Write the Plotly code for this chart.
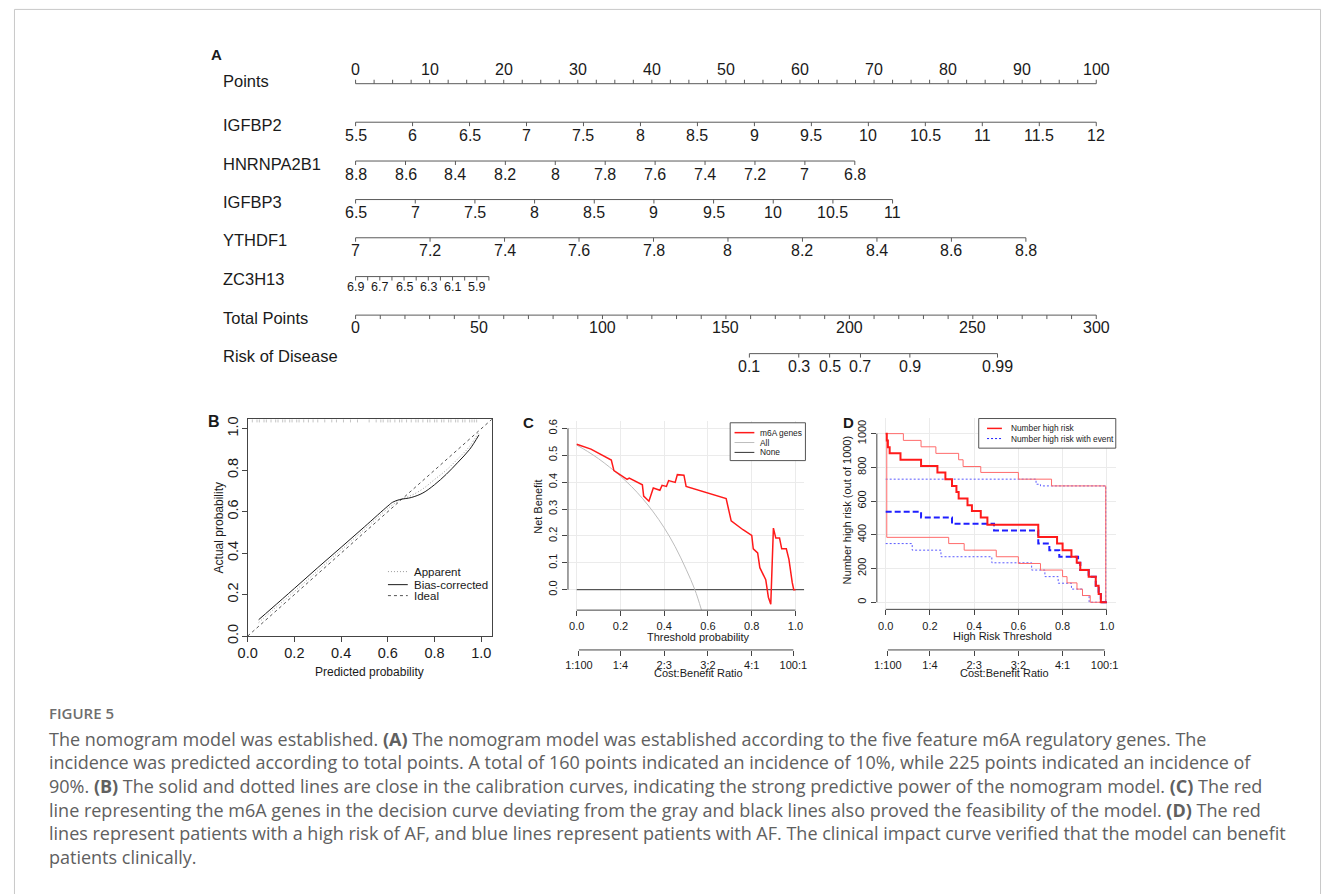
import plotly.graph_objects as go

W, H = 1328, 894
FONT = "Liberation Sans, Arial, Helvetica, sans-serif"
CAPFONT = "Open Sans, Noto Sans, sans-serif"

# ================= DATA =================
# ---- Panel A: nomogram scales ----
points_major = [0, 10, 20, 30, 40, 50, 60, 70, 80, 90, 100]
points_minor_step = 2.5
igfbp2_labels = [5.5, 6, 6.5, 7, 7.5, 8, 8.5, 9, 9.5, 10, 10.5, 11, 11.5, 12]
igfbp2_end_points = [0, 100]
hnrnpa2b1_labels = [8.8, 8.6, 8.4, 8.2, 8, 7.8, 7.6, 7.4, 7.2, 7, 6.8]
hnrnpa2b1_end_points = [0, 67.4]
igfbp3_labels = [6.5, 7, 7.5, 8, 8.5, 9, 9.5, 10, 10.5, 11]
igfbp3_end_points = [0, 72.5]
ythdf1_labels = [7, 7.2, 7.4, 7.6, 7.8, 8, 8.2, 8.4, 8.6, 8.8]
ythdf1_end_points = [0, 90.5]
zc3h13_ticks = [6.9, 6.8, 6.7, 6.6, 6.5, 6.4, 6.3, 6.2, 6.1, 6.0, 5.9, 5.8]
zc3h13_labels = [6.9, 6.7, 6.5, 6.3, 6.1, 5.9]
zc3h13_end_points = [0, 18.0]
total_labels = [0, 50, 100, 150, 200, 250, 300]
total_tick_step = 10
total_max = 300
risk_labels = [0.1, 0.3, 0.5, 0.7, 0.9, 0.99]
risk_total_points = [159.5, 179.5, 192.0, 204.5, 224.5, 260.0]

# ---- Panel B: calibration ----
calib_x = [0.047, 0.1, 0.2, 0.3, 0.4, 0.5, 0.6, 0.62, 0.65, 0.7, 0.75, 0.8, 0.85, 0.9, 0.95, 0.99]
bias_corrected_y = [0.079, 0.131, 0.230, 0.330, 0.428, 0.527, 0.627, 0.645, 0.658, 0.668, 0.690, 0.730, 0.780, 0.838, 0.900, 0.970]
apparent_y = [0.065, 0.118, 0.215, 0.315, 0.415, 0.515, 0.615, 0.632, 0.655, 0.678, 0.710, 0.755, 0.800, 0.855, 0.915, 0.985]
ideal_xy = [0, 1.05]
rug_pred = [0.02, 0.04, 0.05, 0.07, 0.08, 0.10, 0.12, 0.13, 0.15, 0.16, 0.18, 0.19, 0.21, 0.22,
            0.24, 0.26, 0.28, 0.30, 0.33, 0.36, 0.38, 0.41, 0.44, 0.47, 0.52, 0.55, 0.57, 0.58,
            0.60, 0.61, 0.63, 0.65, 0.66, 0.68, 0.70, 0.72, 0.73, 0.75, 0.77, 0.78, 0.80, 0.81,
            0.83, 0.84, 0.86, 0.87, 0.89, 0.90, 0.92, 0.93, 0.95, 0.96, 0.97, 0.98]

# ---- Panel C: decision curve ----
m6a_x = [0, 0.065, 0.158, 0.17, 0.23, 0.24, 0.30, 0.306, 0.33, 0.35, 0.38, 0.39, 0.41, 0.42, 0.45,
         0.46, 0.49, 0.50, 0.683, 0.706, 0.76, 0.80, 0.807, 0.827, 0.837, 0.864, 0.876, 0.887,
         0.899, 0.91, 0.927, 0.937, 0.958, 0.97, 0.985, 0.992, 1.0]
m6a_y = [0.541, 0.523, 0.482, 0.443, 0.410, 0.415, 0.390, 0.348, 0.329, 0.378, 0.370, 0.388, 0.384,
         0.406, 0.399, 0.428, 0.426, 0.384, 0.339, 0.256, 0.223, 0.202, 0.152, 0.137, 0.082, 0.037,
         -0.028, -0.054, 0.229, 0.192, 0.192, 0.152, 0.152, 0.113, 0.027, 0.0, 0.0]
all_x = [0, 0.05, 0.1, 0.15, 0.2, 0.25, 0.3, 0.35, 0.4, 0.45, 0.5, 0.54, 0.57]
all_y = [0.538, 0.514, 0.487, 0.456, 0.422, 0.384, 0.340, 0.289, 0.230, 0.160, 0.076, 0.0, -0.075]
none_x = [0, 1.04]
none_y = [0, 0]
cb_tickvals = [0.01, 0.2, 0.4, 0.6, 0.8, 0.99]
cb_ticktext = ["1:100", "1:4", "2:3", "3:2", "4:1", "100:1"]

# ---- Panel D: clinical impact curve (step functions) ----
hr_x = [0, 0.005, 0.01, 0.018, 0.067, 0.16, 0.234, 0.27, 0.30, 0.32, 0.33, 0.37, 0.39, 0.43, 0.46,
        0.69, 0.775, 0.80, 0.84, 0.864, 0.88, 0.918, 0.95, 0.963, 0.973, 1.0]
hr_y = [1000, 960, 920, 883, 845, 808, 770, 730, 690, 654, 615, 576, 541, 502, 459,
        387, 348, 309, 270, 234, 191, 152, 98, 49, 0, 0]
hr_up_x = [0, 0.08, 0.16, 0.227, 0.33, 0.35, 0.43, 0.60, 0.75, 0.995, 1.0]
hr_up_y = [1000, 960, 922, 883, 845, 805, 770, 730, 690, 0, 0]
hr_lo_x = [0, 0.005, 0.285, 0.355, 0.50, 0.60, 0.70, 0.80, 0.82, 0.865, 0.89, 0.925, 1.0]
hr_lo_y = [1000, 385, 348, 309, 270, 230, 191, 152, 115, 78, 40, 0, 0]
ev_x = [0, 0.16, 0.30, 0.49, 0.69, 0.74, 0.785, 0.87, 0.88, 0.918, 0.95, 0.963, 0.973, 1.0]
ev_y = [537, 502, 465, 426, 348, 309, 270, 234, 191, 152, 98, 49, 0, 0]
ev_up_x = [0, 0.68, 0.70, 0.995, 1.0]
ev_up_y = [730, 700, 690, 0, 0]
ev_lo_x = [0, 0.12, 0.25, 0.48, 0.66, 0.72, 0.78, 0.84, 0.89, 0.92, 1.0]
ev_lo_y = [348, 309, 270, 234, 191, 152, 113, 78, 40, 0, 0]

# ================= HELPERS (page pixel -> paper) =================
def px(p):
    return p / W

def py(p):
    return 1 - p / H

def fmt(v):
    return f"{v:g}"

def lin(vals, v0, v1, p0, p1):
    return [p0 + (v - v0) * (p1 - p0) / (v1 - v0) for v in vals]

fig = go.Figure()
ann = []
shapes = []

# ================= PANEL A =================
P0_PX, P100_PX = 349.0, 1097.0
PT_PER_PX = 100.0 / (P100_PX - P0_PX)
nomo_xrange = [(0 - P0_PX) * PT_PER_PX, (W - P0_PX) * PT_PER_PX]
NOMO_BOT = 400

def pts_of(vals, ref, ends):
    return lin(vals, ref[0], ref[-1], ends[0], ends[1])

n_minor = int(round(100 / points_minor_step))
points_ticks = [i * points_minor_step for i in range(n_minor + 1)]
total_ticks = list(range(0, total_max + 1, total_tick_step))

rows = [
    # name, y, tick positions (points), label positions (points), label texts, tick dir, label dy, font, name dy
    ("Points", 81.7, points_ticks, points_major, [fmt(v) for v in points_major], -1, -14.0, 16, -2.5),
    ("IGFBP2", 120.7, pts_of(igfbp2_labels, igfbp2_labels, igfbp2_end_points),
     pts_of(igfbp2_labels, igfbp2_labels, igfbp2_end_points), [fmt(v) for v in igfbp2_labels], 1, 13.6, 16, 2.6),
    ("HNRNPA2B1", 160.0, pts_of(hnrnpa2b1_labels, hnrnpa2b1_labels, hnrnpa2b1_end_points),
     pts_of(hnrnpa2b1_labels, hnrnpa2b1_labels, hnrnpa2b1_end_points), [fmt(v) for v in hnrnpa2b1_labels], 1, 14.0, 16, 2.5),
    ("IGFBP3", 199.0, pts_of(igfbp3_labels, igfbp3_labels, igfbp3_end_points),
     pts_of(igfbp3_labels, igfbp3_labels, igfbp3_end_points), [fmt(v) for v in igfbp3_labels], 1, 13.5, 16, 2.5),
    ("YTHDF1", 237.7, pts_of(ythdf1_labels, ythdf1_labels, ythdf1_end_points),
     pts_of(ythdf1_labels, ythdf1_labels, ythdf1_end_points), [fmt(v) for v in ythdf1_labels], 1, 13.2, 16, 2.5),
    ("ZC3H13", 277.0, pts_of(zc3h13_ticks, zc3h13_ticks, zc3h13_end_points),
     pts_of(zc3h13_labels, zc3h13_ticks, zc3h13_end_points), [fmt(v) for v in zc3h13_labels], 1, 11.0, 12.5, 2.5),
    ("Total Points", 316.0, [t * 100.0 / total_max for t in total_ticks],
     [t * 100.0 / total_max for t in total_labels], [fmt(v) for v in total_labels], 1, 12.3, 16, 2.5),
    ("Risk of Disease", 355.0, [t * 100.0 / total_max for t in risk_total_points],
     [t * 100.0 / total_max for t in risk_total_points], [fmt(v) for v in risk_labels], 1, 13.3, 16, 2.5),
]

for name, yr, ticks, lpos, ltxt, tdir, ldy, fs, ndy in rows:
    xs = [min(ticks), max(ticks), None]
    ys = [yr, yr, None]
    for t in ticks:
        xs += [t, t, None]
        ys += [yr, yr + tdir * 4.0, None]
    fig.add_trace(go.Scatter(x=xs, y=ys, mode="lines", line=dict(color="#5a5a5a", width=1),
                             xaxis="x", yaxis="y", hoverinfo="skip", showlegend=False))
    for xp, tx in zip(lpos, ltxt):
        ann.append(dict(x=xp, y=yr + ldy, xref="x", yref="y", text=tx, showarrow=False,
                        xanchor="center", yanchor="middle",
                        font=dict(family=FONT, size=fs, color="#1a1a1a")))
    ann.append(dict(x=px(213), y=py(yr + ndy), xref="paper", yref="paper", text=name,
                    showarrow=False, xanchor="left", yanchor="middle",
                    font=dict(family=FONT, size=16.5, color="#1a1a1a")))

# ================= PANEL B =================
fig.add_trace(go.Scatter(x=ideal_xy, y=ideal_xy, mode="lines", xaxis="x2", yaxis="y2",
                         line=dict(color="#555555", width=1, dash="3px,3px"), showlegend=False, hoverinfo="skip"))
fig.add_trace(go.Scatter(x=calib_x, y=apparent_y, mode="lines", xaxis="x2", yaxis="y2", line_shape="spline",
                         line=dict(color="#9a9a9a", width=1, dash="1px,2px"), showlegend=False, hoverinfo="skip"))
fig.add_trace(go.Scatter(x=calib_x, y=bias_corrected_y, mode="lines", xaxis="x2", yaxis="y2", line_shape="spline",
                         line=dict(color="#1a1a1a", width=1), showlegend=False, hoverinfo="skip"))
rx, ry = [], []
for v in rug_pred:
    rx += [v, v, None]
    ry += [1.03, 1.045, None]
fig.add_trace(go.Scatter(x=rx, y=ry, mode="lines", xaxis="x2", yaxis="y2",
                         line=dict(color="#c4c4c4", width=1), showlegend=False, hoverinfo="skip"))

# ================= PANEL C =================
fig.add_trace(go.Scatter(x=none_x, y=none_y, mode="lines", xaxis="x3", yaxis="y3",
                         line=dict(color="#333333", width=1), showlegend=False, hoverinfo="skip"))
fig.add_trace(go.Scatter(x=all_x, y=all_y, mode="lines", xaxis="x3", yaxis="y3", line_shape="spline",
                         line=dict(color="#bdbdbd", width=1), showlegend=False, hoverinfo="skip"))
fig.add_trace(go.Scatter(x=m6a_x, y=m6a_y, mode="lines", xaxis="x3", yaxis="y3",
                         line=dict(color="#ff1a1a", width=1.5), showlegend=False, hoverinfo="skip"))
fig.add_trace(go.Scatter(x=[0.5], y=[0.3], mode="markers", xaxis="x4", yaxis="y3",
                         marker=dict(opacity=0), showlegend=False, hoverinfo="skip"))

# ================= PANEL D =================
def dstep(x, y, color, width, dash):
    fig.add_trace(go.Scatter(x=x, y=y, mode="lines", xaxis="x5", yaxis="y5", line_shape="hv",
                             line=dict(color=color, width=width, dash=dash), showlegend=False, hoverinfo="skip"))

dstep(ev_up_x, ev_up_y, "#5a5aff", 1, "2px,2px")
dstep(ev_lo_x, ev_lo_y, "#5a5aff", 1, "2px,2px")
dstep(hr_up_x, hr_up_y, "#ff6b6b", 1, "solid")
dstep(hr_lo_x, hr_lo_y, "#ff6b6b", 1, "solid")
dstep(ev_x, ev_y, "#1f1fff", 2, "6px,3px")
dstep(hr_x, hr_y, "#ff1a1a", 2, "solid")
fig.add_trace(go.Scatter(x=[0.5], y=[500], mode="markers", xaxis="x6", yaxis="y5",
                         marker=dict(opacity=0), showlegend=False, hoverinfo="skip"))

# ================= AXES =================
AX = "#444444"
GRID = "#ebebeb"

def r_axis(domain, rng, tickvals, ticktext, fs, angle=0, grid=False, line=False, mirror=False, anchor=None,
           standoff=None, ticklen=5):
    d = dict(range=rng, tickvals=tickvals, ticktext=ticktext, ticks="outside",
             ticklen=ticklen, tickcolor=AX, tickwidth=1, showline=line, linecolor=AX, linewidth=1,
             mirror=mirror, showgrid=grid, gridcolor=GRID, gridwidth=1, zeroline=False,
             tickfont=dict(family=FONT, size=fs, color="#1a1a1a"), tickangle=angle)
    if domain is not None:
        d["domain"] = domain
    if anchor:
        d["anchor"] = anchor
    if standoff is not None:
        d["ticklabelstandoff"] = int(standoff)
    return d

layout = dict(
    width=W, height=H, margin=dict(l=0, r=0, t=0, b=0), autosize=False,
    paper_bgcolor="white", plot_bgcolor="rgba(0,0,0,0)", showlegend=False,
    xaxis=dict(domain=[0, 1], range=nomo_xrange, visible=False, anchor="y"),
    yaxis=dict(domain=[py(NOMO_BOT), 1], range=[NOMO_BOT, 0], visible=False, anchor="x"),
)

b01 = [0, 0.2, 0.4, 0.6, 0.8, 1.0]
layout["xaxis2"] = r_axis([px(240), px(486.6)], [0, 1.045], b01, [f"{v:.1f}" for v in b01], 14.5,
                          line=True, mirror=True, anchor="y2", standoff=-2)
layout["yaxis2"] = r_axis([py(641), py(421.5)], [0, 1.045], b01, [f"{v:.1f}" for v in b01], 14.5, angle=-90,
                          line=True, mirror=True, anchor="x2", standoff=-2)

c02 = [0, 0.2, 0.4, 0.6, 0.8, 1.0]
cy = [0, 0.1, 0.2, 0.3, 0.4, 0.5, 0.6]
layout["xaxis3"] = r_axis([px(563.5), px(802.1)], [-0.04, 1.04], c02, [f"{v:.1f}" for v in c02], 11,
                          grid=True, anchor="y3", standoff=1)
layout["yaxis3"] = r_axis([py(614.7), py(423.6)], [-0.076, 0.626], cy, [f"{v:.1f}" for v in cy], 11,
                          angle=-90, grid=True, anchor="x3", standoff=1)
layout["xaxis4"] = r_axis(None, [-0.04, 1.04], cb_tickvals, cb_ticktext, 11, standoff=0)
layout["xaxis4"].update(overlaying="x3", anchor="free", position=py(655), side="bottom")

dy = [0, 200, 400, 600, 800, 1000]
layout["xaxis5"] = r_axis([px(875.4), px(1116.6)], [-0.04, 1.04], c02, [f"{v:.1f}" for v in c02], 11,
                          grid=True, anchor="y5", standoff=1)
layout["yaxis5"] = r_axis([py(613.9), py(420.3)], [-42, 1092], dy, [str(v) for v in dy], 11,
                          angle=-90, grid=True, anchor="x5", standoff=0)
layout["xaxis6"] = r_axis(None, [-0.04, 1.04], cb_tickvals, cb_ticktext, 11, standoff=0)
layout["xaxis6"].update(overlaying="x5", anchor="free", position=py(655), side="bottom")

# R-style axis lines (only between extreme ticks)
def seg(xref, yref, x0, y0, x1, y1, color=AX, width=1, dash="solid"):
    shapes.append(dict(type="line", xref=xref, yref=yref, x0=x0, y0=y0, x1=x1, y1=y1,
                       line=dict(color=color, width=width, dash=dash), layer="above"))

seg("x3", "y3 domain", 0, 0, 1, 0)
seg("x3 domain", "y3", 0, 0, 0, 0.6)
seg("x4", "paper", cb_tickvals[0], py(655), cb_tickvals[-1], py(655))
seg("x5", "y5 domain", 0, 0, 1, 0)
seg("x5 domain", "y5", 0, 0, 0, 1000)
seg("x6", "paper", cb_tickvals[0], py(655), cb_tickvals[-1], py(655))

# ---- legends (drawn R-style) ----
def txt(x, y, s, size, anchor="left", color="#1a1a1a", angle=0, family=FONT, weight=None):
    f = dict(family=family, size=size, color=color)
    if weight:
        f["weight"] = weight
    ann.append(dict(x=px(x), y=py(y), xref="paper", yref="paper", text=s, showarrow=False,
                    xanchor=anchor, yanchor="middle", textangle=angle, font=f))

# B legend
seg("paper", "paper", px(381.7), py(575.7), px(401.7), py(575.7), "#9a9a9a", 1, "1px,2px")
seg("paper", "paper", px(381.7), py(588.9), px(401.7), py(588.9), "#1a1a1a", 1, "solid")
seg("paper", "paper", px(381.7), py(600.0), px(401.7), py(600.0), "#555555", 1, "3px,3px")
txt(405.5, 575.7, "Apparent", 11.5)
txt(405.5, 588.9, "Bias-corrected", 11.5)
txt(405.5, 600.0, "Ideal", 11.5)

# C legend
shapes.append(dict(type="rect", xref="paper", yref="paper", x0=px(727.3), y0=py(425), x1=px(803.3), y1=py(463.3),
                   line=dict(color="#555555", width=1), fillcolor="white", layer="above"))
seg("paper", "paper", px(731.7), py(435), px(751.7), py(435), "#ff1a1a", 1.5)
seg("paper", "paper", px(731.7), py(445), px(751.7), py(445), "#bdbdbd", 1)
seg("paper", "paper", px(731.7), py(455), px(751.7), py(455), "#333333", 1)
txt(755, 435, "m6A genes", 8.4)
txt(755, 445, "All", 8.4)
txt(755, 455, "None", 8.4)

# D legend
shapes.append(dict(type="rect", xref="paper", yref="paper", x0=px(978.3), y0=py(420.7), x1=px(1116.7), y1=py(450.7),
                   line=dict(color="#555555", width=1), fillcolor="white", layer="above"))
seg("paper", "paper", px(986.7), py(430.7), px(1001.7), py(430.7), "#ff1a1a", 1.5)
seg("paper", "paper", px(986.7), py(441), px(1001.7), py(441), "#1f1fff", 1, "2px,2px")
txt(1008.5, 430.7, "Number high risk", 8.3)
txt(1008.5, 441, "Number high risk with event", 8.3)

# axis titles
txt(363, 677, "Predicted probability", 12, "center")
txt(212, 531, "Actual probability", 12, "center", angle=-90)
txt(695.5, 641.5, "Threshold probability", 11, "center")
txt(695.5, 678.5, "Cost:Benefit Ratio", 11, "center")
txt(533.3, 510, "Net Benefit", 11, "center", angle=-90)
txt(1002, 640.5, "High Risk Threshold", 11, "center")
txt(1004, 678.5, "Cost:Benefit Ratio", 11, "center")
txt(845, 513, "Number high risk (out of 1000)", 11, "center", angle=-90)

# panel letters
txt(201, 52.5, "<b>A</b>", 15)
txt(197.5, 423.5, "<b>B</b>", 16)
txt(516, 425, "<b>C</b>", 15)
txt(839.5, 425, "<b>D</b>", 15)

# caption
CAP = "#606060"
txt(37, 719, "FIGURE 5", 15, color="#6e6e6e", family=CAPFONT, weight=600)
cap_lines = [
    "The nomogram model was established. <b>(A)</b> The nomogram model was established according to the five feature m6A regulatory genes. The",
    "incidence was predicted according to total points. A total of 160 points indicated an incidence of 10%, while 225 points indicated an incidence of",
    "90%. <b>(B)</b> The solid and dotted lines are close in the calibration curves, indicating the strong predictive power of the nomogram model. <b>(C)</b> The red",
    "line representing the m6A genes in the decision curve deviating from the gray and black lines also proved the feasibility of the model. <b>(D)</b> The red",
    "lines represent patients with a high risk of AF, and blue lines represent patients with AF. The clinical impact curve verified that the model can benefit",
    "patients clinically.",
]
for i, line in enumerate(cap_lines):
    txt(37, 745 + 23.9 * i, line, 18, color=CAP, family=CAPFONT)

# outer frame
shapes.append(dict(type="rect", xref="paper", yref="paper", x0=px(4.5), y0=py(910), x1=px(1323.5), y1=py(6.5),
                   line=dict(color="#c8c8c8", width=1), fillcolor="rgba(0,0,0,0)", layer="below"))

layout["annotations"] = ann
layout["shapes"] = shapes
fig.update_layout(**layout)
fig.write_html("out.html")
